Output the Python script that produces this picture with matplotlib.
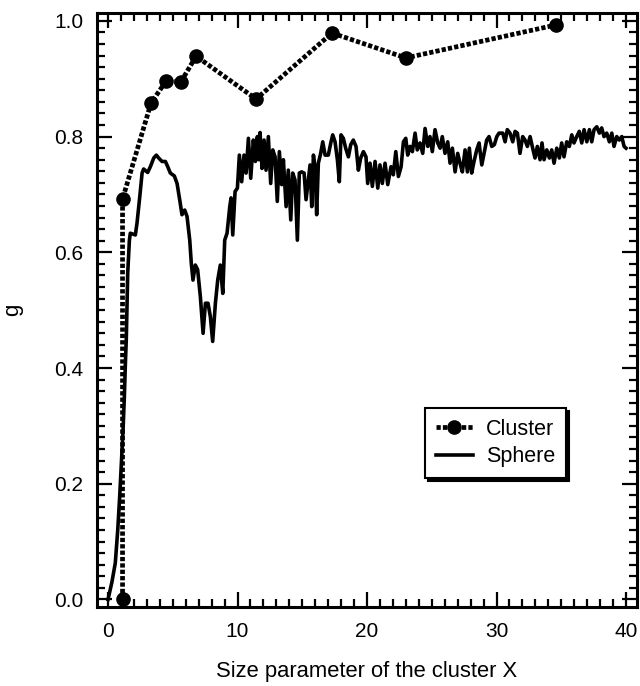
import matplotlib
matplotlib.use("Agg")
import matplotlib.pyplot as plt
from matplotlib.ticker import MultipleLocator

plt.rcParams['font.family'] = ['Liberation Sans', 'DejaVu Sans']

# Cluster series
cluster_x = [1.12, 1.12, 3.32, 4.48, 5.64, 6.80, 11.43, 17.3, 23.0, 34.6]
cluster_g = [0.0, 0.692, 0.858, 0.896, 0.895, 0.939, 0.865, 0.979, 0.936, 0.993]

# Sphere series
sphere_x = [0.0, 0.3, 0.56, 0.75, 0.9, 1.03, 1.16, 1.26, 1.34, 1.41, 1.52, 1.65, 1.72, 2.11,
            2.24, 2.45, 2.63, 2.75, 3.06, 3.27, 3.53, 3.73, 3.91, 4.17, 4.43, 4.61, 4.81, 5.12,
            5.33, 5.54, 5.71, 5.92, 6.1, 6.31, 6.43, 6.56, 6.74, 6.92, 7.13, 7.34, 7.52, 7.72,
            7.9, 8.08, 8.29, 8.47, 8.67, 8.86, 9.01, 9.19, 9.4, 9.5, 9.63, 9.81, 9.99, 10.14,
            10.32, 10.5, 10.66, 10.84, 11.02, 11.22, 11.38, 11.53, 11.64, 11.74, 11.89, 12.05,
            12.2, 12.38, 12.56, 12.72, 12.9, 13.07, 13.23, 13.41, 13.54, 13.75, 13.92, 14.11,
            14.26, 14.44, 14.62, 14.77, 14.95, 15.14, 15.29, 15.47, 15.6, 15.73, 15.86, 15.98,
            16.11, 16.24, 16.42, 16.58, 16.76, 17.01, 17.2, 17.35, 17.53, 17.71, 17.86, 17.99,
            18.17, 18.35, 18.56, 18.74, 18.94, 19.15, 19.33, 19.51, 19.72, 19.92, 20.05, 20.23,
            20.41, 20.62, 20.83, 21.0, 21.18, 21.39, 21.6, 21.85, 22.03, 22.22, 22.42, 22.63,
            22.81, 22.99, 23.14, 23.32, 23.5, 23.71, 23.88, 24.09, 24.3, 24.48, 24.69, 24.86,
            25.04, 25.25, 25.46, 25.64, 25.81, 26.02, 26.23, 26.41, 26.59, 26.8, 27.0, 27.18,
            27.36, 27.57, 27.75, 27.9, 28.08, 28.26, 28.47, 28.65, 28.86, 29.06, 29.24, 29.42,
            29.63, 29.83, 30.02, 30.19, 30.48, 30.66, 30.83, 31.04, 31.25, 31.43, 31.61, 31.81,
            32.02, 32.2, 32.38, 32.59, 32.79, 32.97, 33.15, 33.36, 33.51, 33.67, 33.88, 34.08,
            34.26, 34.44, 34.65, 34.85, 35.03, 35.21, 35.42, 35.62, 35.81, 35.98, 36.19, 36.39,
            36.58, 36.76, 36.97, 37.17, 37.35, 37.53, 37.74, 37.94, 38.12, 38.3, 38.51, 38.71,
            38.9, 39.07, 39.28, 39.48, 39.67, 39.85, 40.0]
sphere_g = [0.0, 0.03, 0.063, 0.12, 0.178, 0.236, 0.293, 0.35, 0.408, 0.45, 0.564, 0.621, 0.633, 0.630,
            0.651, 0.696, 0.737, 0.744, 0.738, 0.748, 0.763, 0.768, 0.763, 0.757, 0.757, 0.748, 0.737, 0.732,
            0.719, 0.690, 0.665, 0.673, 0.662, 0.621, 0.581, 0.552, 0.578, 0.570, 0.523, 0.460, 0.512, 0.512,
            0.489, 0.446, 0.512, 0.552, 0.578, 0.529, 0.621, 0.633, 0.679, 0.694, 0.630, 0.705, 0.711, 0.768,
            0.722, 0.768, 0.737, 0.797, 0.728, 0.794, 0.757, 0.800, 0.760, 0.807, 0.745, 0.794,
            0.742, 0.800, 0.719, 0.777, 0.765, 0.688, 0.774, 0.717, 0.760, 0.679, 0.742, 0.656,
            0.737, 0.725, 0.621, 0.737, 0.739, 0.737, 0.691, 0.725, 0.751, 0.679, 0.768, 0.748,
            0.665, 0.754, 0.771, 0.791, 0.768, 0.768, 0.789, 0.803, 0.791, 0.760, 0.722, 0.803,
            0.797, 0.780, 0.765, 0.786, 0.794, 0.783, 0.742, 0.763, 0.774, 0.765, 0.719, 0.754,
            0.714, 0.757, 0.711, 0.751, 0.719, 0.754, 0.717, 0.748, 0.734, 0.774, 0.731, 0.748,
            0.791, 0.797, 0.768, 0.783, 0.774, 0.806, 0.777, 0.789, 0.771, 0.814, 0.783, 0.800,
            0.774, 0.812, 0.789, 0.780, 0.800, 0.771, 0.791, 0.754, 0.780, 0.739, 0.771, 0.754,
            0.739, 0.777, 0.739, 0.780, 0.737, 0.757, 0.777, 0.789, 0.751, 0.774, 0.794, 0.800,
            0.783, 0.786, 0.800, 0.806, 0.806, 0.791, 0.812, 0.806, 0.791, 0.809, 0.806, 0.771,
            0.800, 0.794, 0.783, 0.800, 0.780, 0.763, 0.783, 0.760, 0.789, 0.760, 0.777, 0.763,
            0.777, 0.754, 0.780, 0.763, 0.789, 0.765, 0.791, 0.783, 0.803, 0.789, 0.800, 0.809,
            0.789, 0.812, 0.791, 0.812, 0.791, 0.812, 0.817, 0.806, 0.815, 0.800, 0.806, 0.791,
            0.806, 0.783, 0.800, 0.794, 0.800, 0.783, 0.780]

x_ticks = [0, 10, 20, 30, 40]
y_ticks = [0.0, 0.2, 0.4, 0.6, 0.8, 1.0]

fig = plt.figure(figsize=(6.4, 6.86), dpi=100)
ax = fig.add_axes([0.1516, 0.1152, 0.8438, 0.866])

ax.plot(cluster_x, cluster_g, color='black', lw=3.4, linestyle=(0, (0.9, 0.45)),
        marker='o', markersize=9.5, label='Cluster', dash_capstyle='butt')
ax.plot(sphere_x, sphere_g, color='black', lw=2.6, label='Sphere')

ax.set_xlim(-0.85, 40.85)
ax.set_ylim(-0.013, 1.0138)
ax.set_xticks(x_ticks)
ax.set_yticks(y_ticks)
ax.set_xticklabels([str(t) for t in x_ticks])
ax.set_yticklabels([f"{t:.1f}" for t in y_ticks])
ax.xaxis.set_minor_locator(MultipleLocator(1))
ax.yaxis.set_minor_locator(MultipleLocator(0.02))

ax.tick_params(which='both', direction='in', top=True, right=True, width=1.6, labelsize=15)
ax.tick_params(which='major', length=11)
ax.tick_params(which='minor', length=5.5)
ax.tick_params(axis='x', which='major', pad=11)
ax.tick_params(axis='y', which='major', pad=10)
for s in ax.spines.values():
    s.set_linewidth(2.2)

ax.set_xlabel('Size parameter of the cluster X', fontsize=15.8, labelpad=14)
ax.set_ylabel('g', fontsize=16, labelpad=22)

leg = ax.legend(loc='lower left', bbox_to_anchor=(0.607, 0.217), fontsize=15.5, frameon=True,
                fancybox=False, edgecolor='black', handlelength=1.75, borderpad=0.5,
                labelspacing=0.3, handletextpad=0.6, borderaxespad=0,
                shadow={'color': 'black', 'alpha': 1})
leg.get_frame().set_linewidth(1.5)

fig.savefig('out.png', dpi=100)
